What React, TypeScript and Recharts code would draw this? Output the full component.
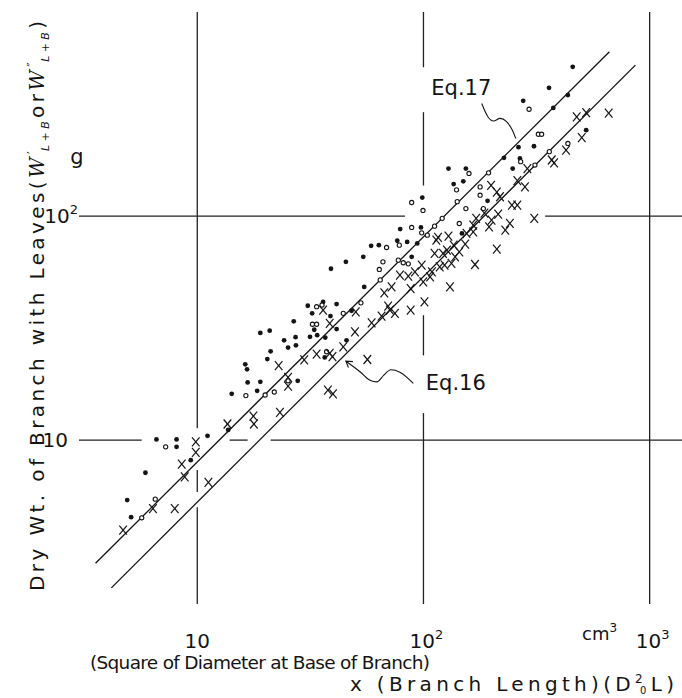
import React from 'react';
import {
  ComposedChart,
  Scatter,
  Line,
  XAxis,
  YAxis,
  ReferenceLine,
  ReferenceDot,
  Label,
} from 'recharts';

const FONT = "'DejaVu Sans', 'Liberation Sans', sans-serif";
const INK = '#141414';

// axes
const xDomain: [number, number] = [3, 1390];
const yDomain: [number, number] = [1.855, 815];
const xTicks = [10, 100, 1000];
const xTickBase = ['10', '10', '10'];
const xTickExp = ['', '2', '3'];
const yTicks = [10, 100];
const yTickBase = ['10', '10'];
const yTickExp = ['', '2'];

// observations (x = D0^2 L  [cm3],  y = dry weight [g])
const filledDots: [number, number][] = [
  [4.9, 5.4], [5.1, 4.53], [5.9, 7.15], [6.6, 10.07], [8.1, 10.07], [8.1, 9.33], [9.36, 8.14],
  [11.1, 10.45], [13.7, 11.1], [14.2, 16.1], [18.4, 16.6], [16.7, 18.1], [19.0, 18.2], [27.8, 18.4],
  [16.3, 21.8], [16.6, 20.7], [20.4, 23.0], [21.1, 24.9], [24.2, 27.9], [25.2, 25.9], [27.3, 26.5],
  [27.2, 28.8], [19.0, 30.1], [20.9, 30.8], [26.7, 33.9], [31.5, 28.9], [33.9, 29.4], [32.9, 31.1],
  [36.8, 28.7], [41.3, 31.3], [38.8, 35.8], [36.0, 41.4], [30.8, 39.8], [32.2, 36.8], [41.3, 40.5],
  [36.6, 23.4], [45.7, 27.9], [39.0, 58.2], [45.4, 62.5], [54.2, 65.8], [58.7, 73.7], [63.5, 74.2],
  [76.6, 77.6], [84.7, 76.7], [93.9, 75.5], [78.9, 87.5], [97.5, 89.0], [88.7, 65.8], [98.8, 121],
  [129, 163], [136, 139], [154, 163], [150, 143], [54.7, 48.3], [48.1, 37.8], [148, 83.7], [192, 117],
  [227, 182], [248, 163], [263, 203], [267, 181], [308, 205], [276, 327], [359, 374], [375, 304],
  [435, 347], [457, 464], [524, 242],
];

const openCircles: [number, number][] = [
  [7.25, 9.33], [6.52, 5.45], [5.68, 4.5], [16.4, 15.8], [19.95, 15.9], [21.9, 16.4], [25.2, 18.4],
  [32.3, 32.9], [33.7, 32.9], [44.2, 36.8], [35.6, 40.1], [33.7, 39.4], [37.3, 24.8], [140, 131],
  [141, 116], [88.7, 115], [99.5, 106], [88.7, 89.0], [98.2, 84.2], [104, 82.2], [112, 90.2],
  [121, 97.7], [78.2, 74.2], [68.7, 72.4], [66.2, 62.5], [63.8, 57.8], [64.4, 51.9], [77.4, 63.6],
  [81.4, 61.9], [85.7, 61.2], [52.9, 41.0], [159, 155], [293, 300], [322, 232], [333, 232],
  [360, 194], [435, 211], [311, 169], [194, 156], [178, 135], [178, 124], [184, 108], [154, 108],
  [144, 92.7], [269, 175],
];

const crosses: [number, number][] = [
  [4.7, 3.96], [6.37, 4.95], [7.95, 4.95], [8.54, 7.81], [8.8, 6.86], [9.85, 9.83], [9.85, 8.81],
  [11.2, 6.47], [13.6, 11.8], [17.7, 12.8], [17.8, 11.8], [23.2, 13.3], [22.9, 21.5], [25.2, 19.05],
  [25.2, 17.4], [29.7, 22.8], [33.7, 24.2], [36.0, 38.0], [38.5, 33.2], [38.5, 24.4], [39.6, 23.6],
  [44.2, 26.1], [37.8, 16.7], [39.8, 16.1], [49.8, 30.4], [56.5, 22.9], [50.2, 37.4], [59.0, 33.4],
  [65.3, 35.8], [71.1, 38.0], [74.8, 36.8], [69.8, 39.6], [67.1, 45.4], [72.3, 48.3], [87.8, 47.5],
  [87.8, 38.0], [101, 41.4], [131, 48.3], [78.7, 54.5], [85.7, 54.0], [91.7, 56.4], [98.2, 60.4],
  [99.8, 50.9], [107, 53.6], [109, 56.4], [112, 68.1], [122, 68.1], [127, 70.5], [136, 74.2],
  [118, 59.4], [124, 60.4], [133, 61.5], [138, 65.8], [116, 80.4], [129, 81.4], [114, 78.2],
  [155, 83.7], [166, 85.1], [153, 75.0], [144, 69.3], [169, 60.8], [211, 71.2], [171, 97.7],
  [166, 91.2], [186, 103], [200, 95.9], [195, 89.5], [214, 102], [241, 92.7], [230, 86.6],
  [246, 112], [260, 112], [309, 97.7], [199, 137], [211, 128], [218, 122], [260, 144], [281, 135],
  [288, 163], [369, 178], [378, 173], [427, 197], [476, 277], [524, 290], [659, 288], [501, 224],
];

// fitted relations
const eq17Line: [number, number][] = [[3.55, 2.82], [664, 542]];
const eq16Line: [number, number][] = [[4.17, 2.19], [865, 472]];

// label pointers
const eq17Pointer: [number, number][] = [
  [181, 318], [193, 277], [204, 266], [218, 273], [233, 264], [246, 244], [256, 222],
];
const eq16Pointer: [number, number][] = [
  [45.4, 22.5], [52.4, 20.2], [58.0, 18.5], [62.2, 18.2], [66.8, 19.5], [71.8, 20.6], [78.7, 20.1], [90.2, 17.9],
];
const eq16Head: [number, number][] = [[48.8, 22.4], [45.4, 22.5], [46.6, 21.1]];

const eqLabels = [
  { text: 'Eq.17', x: 147, y: 373 },
  { text: 'Eq.16', x: 139, y: 18.0 },
];

// grid lines (with the breaks of the original drawing)
const vGrid: [number, number, number][] = [
  [10, 11.3, 815], [10, 5.86, 7.35], [10, 1.855, 5.02],
  [100, 462, 815], [100, 137, 291], [100, 23.9, 36.1], [100, 1.855, 13.2],
  [1000, 1.855, 815],
];
const hGrid: [number, number, number][] = [
  [100, 3, 82.8], [100, 345, 1390],
  [10, 3, 5.68], [10, 13.9, 16.7], [10, 21.1, 1390],
];

const xTitle1 = '(Square of Diameter at Base of Branch)';
const xTitle2 = 'x (Branch Length)(D';
const xTitle2End = 'L)';
const yTitle = 'Dry Wt. of Branch with Leaves(';
const yUnit = 'g';
const xUnit = 'cm';

const toPts = (a: [number, number][]) => a.map(([x, y]) => ({ x, y }));

const DotShape = (p: any) => <circle cx={p.cx} cy={p.cy} r={2.4} fill={INK} />;
const OpenShape = (p: any) => (
  <circle cx={p.cx} cy={p.cy} r={2.1} fill="#fff" stroke={INK} strokeWidth={1.1} />
);
const CrossShape = (p: any) => (
  <g stroke={INK} strokeWidth={1.2}>
    <line x1={p.cx - 3.8} y1={p.cy - 4.5} x2={p.cx + 3.8} y2={p.cy + 4.5} />
    <line x1={p.cx + 3.8} y1={p.cy - 4.5} x2={p.cx - 3.8} y2={p.cy + 4.5} />
  </g>
);

const XTick = (props: any) => {
  const { x, payload } = props;
  const i = xTicks.indexOf(payload.value);
  const exp = xTickExp[i] || '';
  return (
    <g>
      <text x={x + (exp ? 3 : 0)} y={648} textAnchor="middle" fontSize={20} fontFamily={FONT} fill={INK}>
        {xTickBase[i]}
        {exp ? (
          <tspan dy={-9} fontSize={13}>
            {exp}
          </tspan>
        ) : null}
      </text>
      {payload.value === 1000 ? (
        <text x={x - 50} y={640} textAnchor="middle" fontSize={18} fontFamily={FONT} fill={INK}>
          {xUnit}
          <tspan dy={-8} fontSize={12}>
            3
          </tspan>
        </text>
      ) : null}
    </g>
  );
};

const YTick = (props: any) => {
  const { y, payload } = props;
  const i = yTicks.indexOf(payload.value);
  const exp = yTickExp[i] || '';
  return (
    <g>
      <text
        x={exp ? 78 : 68}
        y={y}
        dy={7}
        textAnchor="end"
        fontSize={20}
        fontFamily={FONT}
        fill={INK}
      >
        {yTickBase[i]}
        {exp ? (
          <tspan dy={-9} fontSize={13}>
            {exp}
          </tspan>
        ) : null}
      </text>
      {exp ? (
        <text x={77} y={y - 52} textAnchor="middle" fontSize={21} fontFamily={FONT} fill={INK}>
          {yUnit}
        </text>
      ) : null}
    </g>
  );
};

const XTitle = () => (
  <g fontFamily={FONT} fill={INK}>
    <text x={90} y={669} fontSize={18.5} textLength={340} lengthAdjust="spacing">
      {xTitle1}
    </text>
    <text x={350} y={691} fontSize={20} textLength={324} lengthAdjust="spacing">
      {xTitle2}
      <tspan dy={-8} fontSize={12}>
        2
      </tspan>
      <tspan dy={11} dx={-7} fontSize={10}>
        0
      </tspan>
      <tspan dy={-3}>{xTitle2End}</tspan>
    </text>
  </g>
);

const YTitle = () => (
  <g transform="translate(44,0) rotate(-90)" fontFamily={FONT} fill={INK}>
    <text x={-591} y={0} fontSize={20} textLength={570} lengthAdjust="spacing">
      {yTitle}
      <tspan fontFamily="'DejaVu Serif', serif" fontStyle="italic">
        W
      </tspan>
      <tspan dy={-8} fontSize={12}>
        ′
      </tspan>
      <tspan dy={13} dx={-3} fontSize={11} fontStyle="italic">
        L+B
      </tspan>
      <tspan dy={-5}>or</tspan>
      <tspan fontFamily="'DejaVu Serif', serif" fontStyle="italic">
        W
      </tspan>
      <tspan dy={-8} fontSize={12}>
        ″
      </tspan>
      <tspan dy={13} dx={-3} fontSize={11} fontStyle="italic">
        L+B
      </tspan>
      <tspan dy={-5}>)</tspan>
    </text>
  </g>
);

export default function App() {
  return (
    <div style={{ position: 'absolute', left: 0, top: 0, background: '#fff' }}>
      <ComposedChart width={682} height={698} margin={{ top: 12, right: 0, bottom: 0, left: 0 }}>
        <XAxis
          type="number"
          dataKey="x"
          scale="log"
          domain={xDomain}
          allowDataOverflow
          ticks={xTicks}
          interval={0}
          axisLine={false}
          tickLine={false}
          tick={<XTick />}
          height={94}
        >
          <Label content={() => <XTitle />} />
        </XAxis>
        <YAxis
          type="number"
          dataKey="y"
          scale="log"
          domain={yDomain}
          allowDataOverflow
          ticks={yTicks}
          interval={0}
          axisLine={false}
          tickLine={false}
          tick={<YTick />}
          width={79}
        >
          <Label content={() => <YTitle />} />
        </YAxis>

        {vGrid.map(([x, y1, y2], i) => (
          <ReferenceLine
            key={'v' + i}
            segment={[{ x, y: y1 }, { x, y: y2 }]}
            stroke="#222"
            strokeWidth={1.3}
            ifOverflow="visible"
          />
        ))}
        {hGrid.map(([y, x1, x2], i) => (
          <ReferenceLine
            key={'h' + i}
            segment={[{ x: x1, y }, { x: x2, y }]}
            stroke="#222"
            strokeWidth={1.3}
            ifOverflow="visible"
          />
        ))}

        <Line data={toPts(eq17Line)} dataKey="y" type="linear" stroke={INK} strokeWidth={1.3} dot={false} activeDot={false} isAnimationActive={false} />
        <Line data={toPts(eq16Line)} dataKey="y" type="linear" stroke={INK} strokeWidth={1.3} dot={false} activeDot={false} isAnimationActive={false} />
        <Line data={toPts(eq17Pointer)} dataKey="y" type="monotone" stroke={INK} strokeWidth={1.1} dot={false} activeDot={false} isAnimationActive={false} />
        <Line data={toPts(eq16Pointer)} dataKey="y" type="monotone" stroke={INK} strokeWidth={1.1} dot={false} activeDot={false} isAnimationActive={false} />
        <Line data={toPts(eq16Head)} dataKey="y" type="linear" stroke={INK} strokeWidth={1.1} dot={false} activeDot={false} isAnimationActive={false} />

        <Scatter data={toPts(filledDots)} shape={(p: any) => <DotShape {...p} />} isAnimationActive={false} />
        <Scatter data={toPts(openCircles)} shape={(p: any) => <OpenShape {...p} />} isAnimationActive={false} />
        <Scatter data={toPts(crosses)} shape={(p: any) => <CrossShape {...p} />} isAnimationActive={false} />

        {eqLabels.map((e) => (
          <ReferenceDot
            key={e.text}
            x={e.x}
            y={e.y}
            r={0}
            fill="none"
            stroke="none"
            ifOverflow="visible"
            label={{ value: e.text, position: 'center', fontSize: 21, fill: INK, fontFamily: FONT }}
          />
        ))}
      </ComposedChart>
    </div>
  );
}
